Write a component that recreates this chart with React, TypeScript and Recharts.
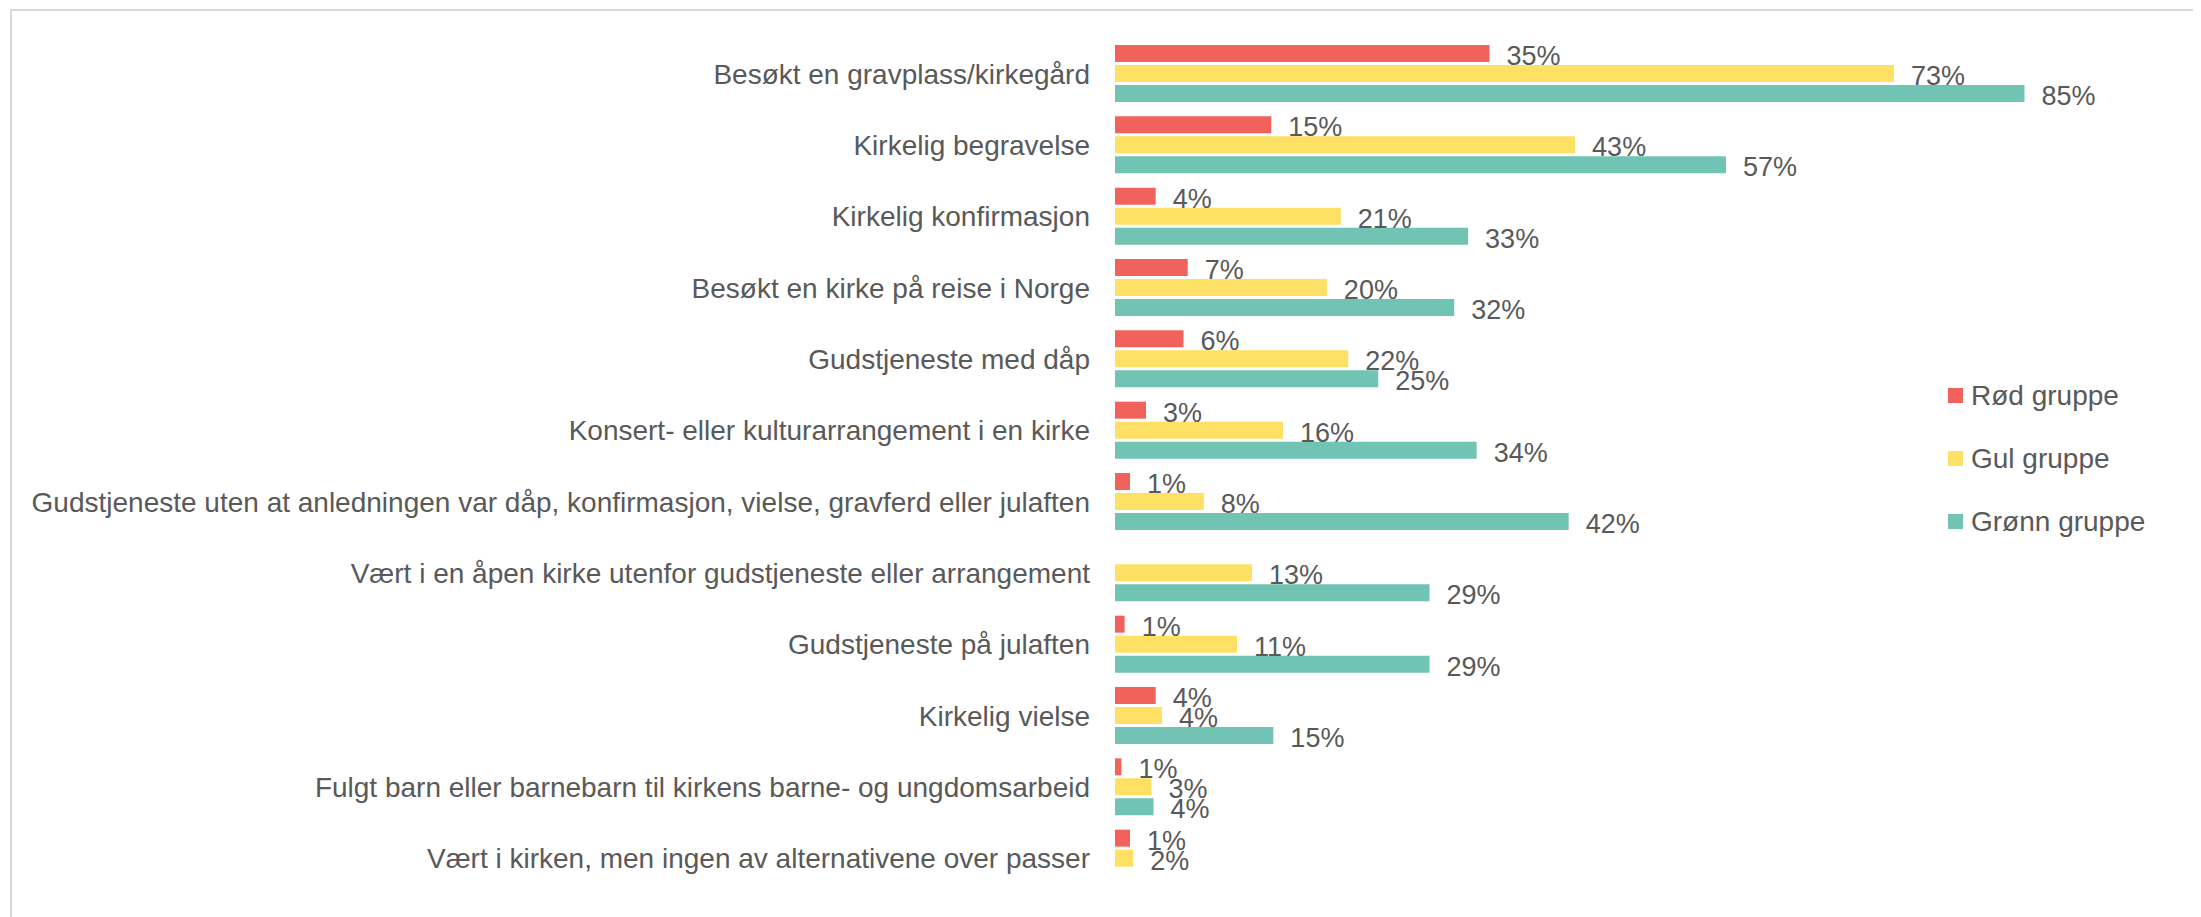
import React from "react";
import { BarChart, Bar, XAxis, YAxis, Legend, LabelList } from "recharts";

const categories = [
  "Besøkt en gravplass/kirkegård",
  "Kirkelig begravelse",
  "Kirkelig konfirmasjon",
  "Besøkt en kirke på reise i Norge",
  "Gudstjeneste med dåp",
  "Konsert- eller kulturarrangement i en kirke",
  "Gudstjeneste uten at anledningen var dåp, konfirmasjon, vielse, gravferd eller julaften",
  "Vært i en åpen kirke utenfor gudstjeneste eller arrangement",
  "Gudstjeneste på julaften",
  "Kirkelig vielse",
  "Fulgt barn eller barnebarn til kirkens barne- og ungdomsarbeid",
  "Vært i kirken, men ingen av alternativene over passer",
];

const rod: (number | null)[] = [35.0, 14.6, 3.8, 6.8, 6.4, 2.9, 1.4, null, 0.9, 3.8, 0.6, 1.4];
const gul: (number | null)[] = [72.8, 43.0, 21.1, 19.8, 21.8, 15.7, 8.3, 12.8, 11.4, 4.4, 3.4, 1.7];
const gronn: (number | null)[] = [85.0, 57.1, 33.0, 31.7, 24.6, 33.8, 42.4, 29.4, 29.4, 14.8, 3.6, null];

const seriesNames = ["Rød gruppe", "Gul gruppe", "Grønn gruppe"];

const textColor = "#595959";

const data = categories.map((name, i) => ({
  name,
  rod: rod[i],
  gul: gul[i],
  gronn: gronn[i],
}));

// value label to the right of each bar, shown as rounded percent
function ValueLabel(props: any) {
  const vb = props.viewBox || props;
  const { value } = props;
  if (value == null) return null;
  return (
    <text
      x={vb.x + vb.width + 17}
      y={vb.y + vb.height / 2 + 2}
      dy="0.355em"
      fontSize={27}
      fill={textColor}
      textAnchor="start"
    >
      {`${Math.round(value)}%`}
    </text>
  );
}

function renderLegend(props: any) {
  const { payload } = props;
  const items = seriesNames
    .map((n) => payload.find((p: any) => p.value === n))
    .filter(Boolean);
  return (
    <div>
      {items.map((entry: any) => (
        <div
          key={entry.value}
          style={{ display: "flex", alignItems: "center", height: 63 }}
        >
          <span
            style={{
              display: "inline-block",
              width: 15,
              height: 15,
              background: entry.color,
              marginRight: 8,
            }}
          />
          <span style={{ fontSize: 28, color: textColor, lineHeight: "32px" }}>
            {entry.value}
          </span>
        </div>
      ))}
    </div>
  );
}

export default function App() {
  return (
    <div
      style={{
        marginLeft: 2,
        marginTop: 1,
        width: 2185,
        height: 908,
        boxSizing: "border-box",
        border: "2px solid #d9d9d9",
        borderBottom: "none",
        fontFamily: "'Liberation Sans', Arial, sans-serif",
        background: "#fff",
      }}
    >
      <BarChart
        width={2180}
        height={906}
        data={data}
        layout="vertical"
        margin={{ top: 27, right: 7, bottom: 23, left: 0 }}
        barCategoryGap={7}
        barGap={3}
      >
        <XAxis type="number" domain={[0, 100]} hide />
        <YAxis
          type="category"
          dataKey="name"
          width={1103}
          interval={0}
          axisLine={false}
          tickLine={false}
          tickSize={0}
          tickMargin={25}
          tick={{ fill: textColor, fontSize: 28 }}
        />
        <Legend
          layout="vertical"
          align="center"
          verticalAlign="middle"
          content={renderLegend}
          wrapperStyle={{ left: 1936, top: 353, width: 240 }}
        />
        <Bar dataKey="rod" name={seriesNames[0]} fill="#F2625D" isAnimationActive={false}>
          <LabelList dataKey="rod" content={ValueLabel} />
        </Bar>
        <Bar dataKey="gul" name={seriesNames[1]} fill="#FDE064" isAnimationActive={false}>
          <LabelList dataKey="gul" content={ValueLabel} />
        </Bar>
        <Bar dataKey="gronn" name={seriesNames[2]} fill="#71C4B3" isAnimationActive={false}>
          <LabelList dataKey="gronn" content={ValueLabel} />
        </Bar>
      </BarChart>
    </div>
  );
}
